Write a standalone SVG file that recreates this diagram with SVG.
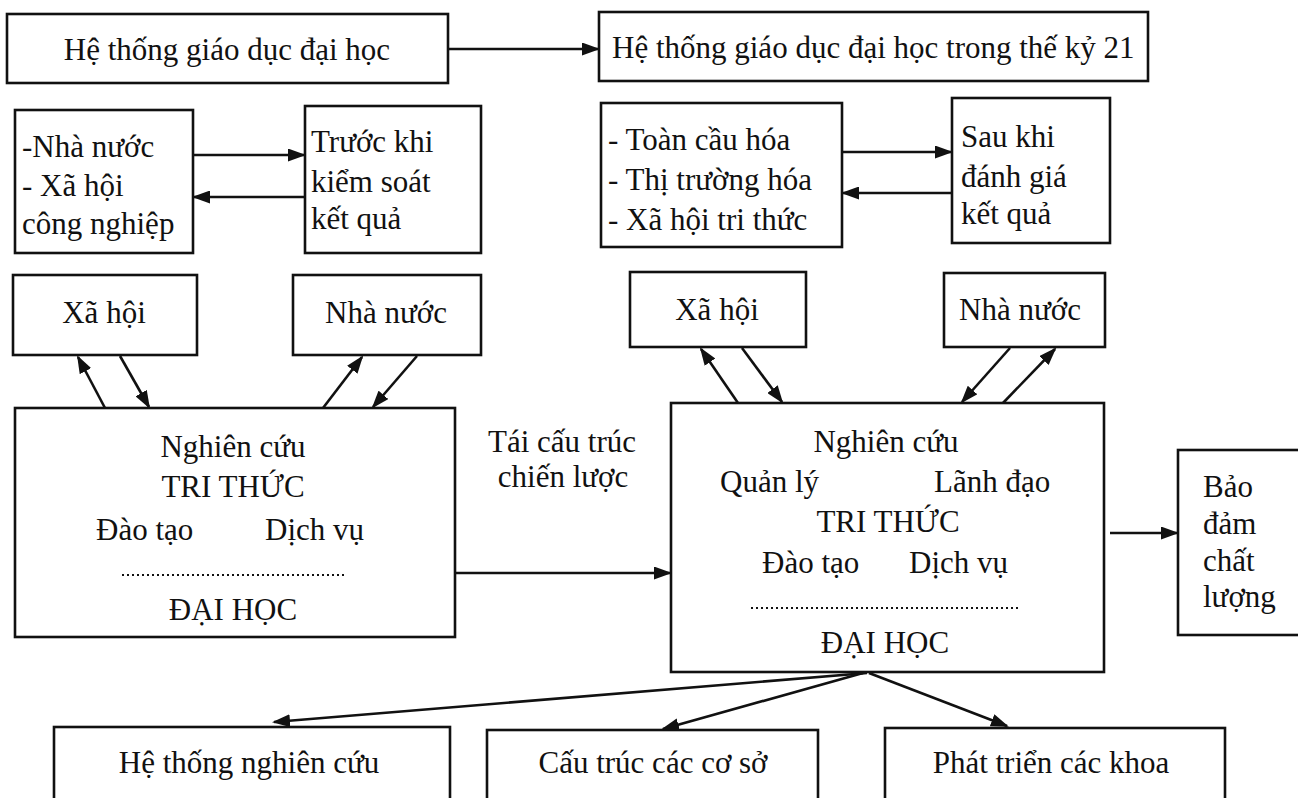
<svg xmlns="http://www.w3.org/2000/svg" width="1298" height="798" viewBox="0 0 1298 798">
<defs>
<marker id="ah" viewBox="0 0 18 13" refX="16" refY="6.5" markerWidth="18" markerHeight="13" markerUnits="userSpaceOnUse" orient="auto">
<path d="M0,0 L18,6.5 L0,13 Z" fill="#111"/>
</marker>
<style>
.b{fill:#fff;stroke:#111;stroke-width:2.6}
.t{font-family:"Liberation Serif","DejaVu Serif",serif;font-size:31px;fill:#111}
.m{text-anchor:middle}
.c{stroke:#111;stroke-width:2.6;fill:none;marker-end:url(#ah)}
.d{stroke:#111;stroke-width:2;stroke-dasharray:2 3;fill:none}
</style>
</defs>
<rect width="1298" height="798" fill="#fff"/>
<g id="n-he-thong">
<rect class="b" x="7" y="14" width="441" height="69"/>
<text class="t m" x="227" y="60">Hệ thống giáo dục đại học</text>
</g>
<g id="n-he-thong-21">
<rect class="b" x="599" y="12" width="549" height="69"/>
<text class="t" x="612" y="58">Hệ thống giáo dục đại học trong thế kỷ 21</text>
</g>
<g id="n-nha-nuoc-xh">
<rect class="b" x="15" y="110" width="178" height="143"/>
<text class="t" x="22" y="157">-Nhà nước</text>
<text class="t" x="22" y="196">- Xã hội</text>
<text class="t" x="22" y="234">công nghiệp</text>
</g>
<g id="n-truoc-khi">
<rect class="b" x="305" y="106" width="176" height="147"/>
<text class="t" x="311" y="152">Trước khi</text>
<text class="t" x="311" y="192">kiểm soát</text>
<text class="t" x="311" y="229">kết quả</text>
</g>
<g id="n-toan-cau">
<rect class="b" x="601" y="103" width="241" height="144"/>
<text class="t" x="608" y="150">- Toàn cầu hóa</text>
<text class="t" x="608" y="190">- Thị trường hóa</text>
<text class="t" x="608" y="230">- Xã hội tri thức</text>
</g>
<g id="n-sau-khi">
<rect class="b" x="952" y="98" width="158" height="145"/>
<text class="t" x="961" y="147">Sau khi</text>
<text class="t" x="961" y="187">đánh giá</text>
<text class="t" x="961" y="224">kết quả</text>
</g>
<g id="n-xa-hoi-1">
<rect class="b" x="13" y="275" width="184" height="80"/>
<text class="t m" x="104" y="323">Xã hội</text>
</g>
<g id="n-nha-nuoc-1">
<rect class="b" x="293" y="275" width="188" height="80"/>
<text class="t m" x="386" y="323">Nhà nước</text>
</g>
<g id="n-xa-hoi-2">
<rect class="b" x="630" y="272" width="176" height="75"/>
<text class="t m" x="717" y="320">Xã hội</text>
</g>
<g id="n-nha-nuoc-2">
<rect class="b" x="944" y="273" width="161" height="74"/>
<text class="t m" x="1020" y="320">Nhà nước</text>
</g>
<g id="n-dai-hoc-1">
<rect class="b" x="15" y="408" width="440" height="229"/>
<text class="t m" x="233" y="457">Nghiên cứu</text>
<text class="t m" x="233" y="497">TRI THỨC</text>
<text class="t" x="96" y="540">Đào tạo</text>
<text class="t" x="265" y="540">Dịch  vụ</text>
<line class="d" x1="122" y1="575" x2="346" y2="575"/>
<text class="t m" x="233" y="620">ĐẠI HỌC</text>
</g>
<g id="n-dai-hoc-2">
<rect class="b" x="671" y="403" width="433" height="269"/>
<text class="t m" x="886" y="452">Nghiên cứu</text>
<text class="t" x="720" y="492">Quản lý</text>
<text class="t" x="934" y="492">Lãnh đạo</text>
<text class="t m" x="888" y="532">TRI THỨC</text>
<text class="t" x="762" y="573">Đào tạo</text>
<text class="t" x="909" y="573">Dịch vụ</text>
<line class="d" x1="751" y1="608" x2="1021" y2="608"/>
<text class="t m" x="885" y="653">ĐẠI HỌC</text>
</g>
<g id="n-bao-dam">
<rect class="b" x="1178" y="450" width="130" height="185"/>
<text class="t" x="1203" y="497">Bảo</text>
<text class="t" x="1203" y="534">đảm</text>
<text class="t" x="1203" y="571">chất</text>
<text class="t" x="1203" y="607">lượng</text>
</g>
<g id="n-nghien-cuu">
<rect class="b" x="54" y="727" width="396" height="100"/>
<text class="t m" x="249" y="773">Hệ thống nghiên cứu</text>
</g>
<g id="n-co-so">
<rect class="b" x="487" y="730" width="331" height="100"/>
<text class="t m" x="653" y="773">Cấu  trúc các cơ sở</text>
</g>
<g id="n-khoa">
<rect class="b" x="885" y="728" width="340" height="100"/>
<text class="t m" x="1051" y="773">Phát triển các khoa</text>
</g>
<g id="label">
<text class="t m" x="562" y="452">Tái cấu trúc</text>
<text class="t m" x="563" y="487">chiến lược</text>
</g>
<g id="connectors">
<line class="c" x1="448" y1="49" x2="598" y2="49"/>
<line class="c" x1="193" y1="155" x2="304" y2="155"/>
<line class="c" x1="305" y1="197" x2="194" y2="197"/>
<line class="c" x1="842" y1="152" x2="951" y2="152"/>
<line class="c" x1="952" y1="193" x2="843" y2="193"/>
<line class="c" x1="105" y1="408" x2="78" y2="357"/>
<line class="c" x1="120" y1="356" x2="149" y2="407"/>
<line class="c" x1="323" y1="408" x2="362" y2="357"/>
<line class="c" x1="417" y1="356" x2="373" y2="407"/>
<line class="c" x1="738" y1="403" x2="701" y2="349"/>
<line class="c" x1="742" y1="348" x2="782" y2="402"/>
<line class="c" x1="1010" y1="348" x2="962" y2="402"/>
<line class="c" x1="1003" y1="403" x2="1055" y2="349"/>
<line class="c" x1="455" y1="573" x2="670" y2="573"/>
<line class="c" x1="1110" y1="533" x2="1177" y2="533"/>
<line class="c" x1="867" y1="673" x2="274" y2="722"/>
<line class="c" x1="863" y1="673" x2="663" y2="729"/>
<line class="c" x1="869" y1="673" x2="1007" y2="726"/>
</g>
</svg>
